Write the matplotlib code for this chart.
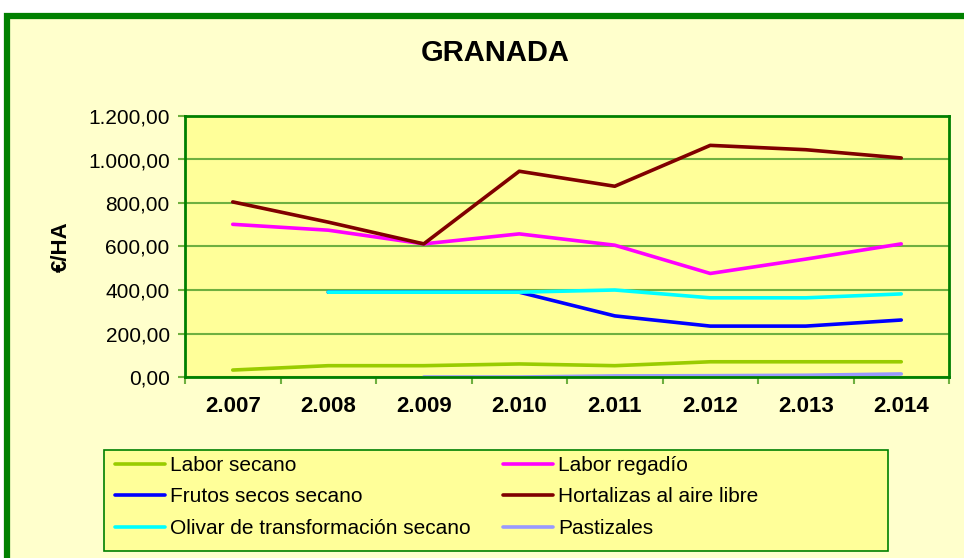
import numpy as np
import matplotlib
matplotlib.use('Agg')
import matplotlib.pyplot as plt
from matplotlib.patches import Rectangle

plt.rcParams['font.family'] = ['Liberation Sans', 'DejaVu Sans']

years = ['2.007', '2.008', '2.009', '2.010', '2.011', '2.012', '2.013', '2.014']
nan = np.nan

labor_secano = [32, 52, 52, 60, 52, 70, 70, 70]
labor_regadio = [702, 675, 612, 658, 606, 476, 542, 612]
frutos_secos = [nan, 390, 390, 390, 281, 234, 234, 262]
hortalizas = [805, 712, 612, 946, 877, 1065, 1045, 1007]
olivar = [nan, 390, 390, 390, 400, 364, 364, 382]
pastizales = [nan, nan, 0, 0, 5, 6, 8, 14]

series = [
    ('Labor secano', labor_secano, '#99CC00'),
    ('Labor regadío', labor_regadio, '#FF00FF'),
    ('Frutos secos secano', frutos_secos, '#0000FF'),
    ('Hortalizas al aire libre', hortalizas, '#800000'),
    ('Olivar de transformación secano', olivar, '#00FFFF'),
    ('Pastizales', pastizales, '#9999FF'),
]

green = '#008000'
grid_green = '#6FB040'

fig = plt.figure(figsize=(9.64, 5.58), dpi=100)
fig.patch.set_facecolor('white')
# outer chart frame
fig.patches.append(Rectangle((7 / 964, -0.05), 1.1, (558 - 16) / 558 + 0.05,
                             transform=fig.transFigure, facecolor='#FFFFCC',
                             edgecolor=green, linewidth=4.5, zorder=-1))
# legend box (drawn by hand so it can be wider than its entries)
fig.patches.append(Rectangle((104 / 964, (558 - 551) / 558), 784 / 964, 101 / 558,
                             transform=fig.transFigure, facecolor='#FFFF99',
                             edgecolor=green, linewidth=1.2, zorder=0))

ax = fig.add_axes([185 / 964, (558 - 377) / 558, (949 - 185) / 964, (377 - 116) / 558])
ax.set_facecolor('#FFFF99')

x = np.arange(len(years))
handles = {}
for name, vals, col in series:
    h, = ax.plot(x, vals, color=col, lw=2.6, label=name, solid_capstyle='round')
    handles[name] = h

ax.set_xlim(-0.5, len(years) - 0.5)
ax.set_ylim(0, 1200)
ax.set_yticks(np.arange(0, 1201, 200))
ax.set_yticklabels(['0,00', '200,00', '400,00', '600,00', '800,00', '1.000,00', '1.200,00'],
                   fontsize=15)
ax.set_xticks(x)
ax.set_xticklabels(years, fontsize=16, fontweight='bold')
ax.set_xticks(np.arange(-0.5, len(years)), minor=True)
ax.tick_params(axis='x', which='major', length=0, pad=14)
ax.tick_params(axis='x', which='minor', length=5, color=grid_green, width=1.5)
ax.tick_params(axis='y', length=5, color=grid_green, width=1.5, pad=6)
ax.yaxis.grid(True, color=grid_green, lw=1.5)
ax.set_axisbelow(True)
for s in ax.spines.values():
    s.set_color(green)
    s.set_linewidth(2)

ax.set_ylabel('€/HA', fontsize=16, fontweight='bold', labelpad=11.5)
fig.text(495 / 964, 1 - 53 / 558, 'GRANADA', fontsize=21, fontweight='bold',
         ha='center', va='center')

order = ['Labor secano', 'Frutos secos secano', 'Olivar de transformación secano',
         'Labor regadío', 'Hortalizas al aire libre', 'Pastizales']
leg = fig.legend([handles[n] for n in order], order, ncol=2,
                 loc='upper left', bbox_to_anchor=(115 / 964, 1 - 456 / 558),
                 fontsize=15, frameon=False,
                 handlelength=2.4, handletextpad=0.25, labelspacing=0.6,
                 columnspacing=1.55, borderpad=0, borderaxespad=0)
leg.set_zorder(1)

fig.savefig('out.png', dpi=100)
